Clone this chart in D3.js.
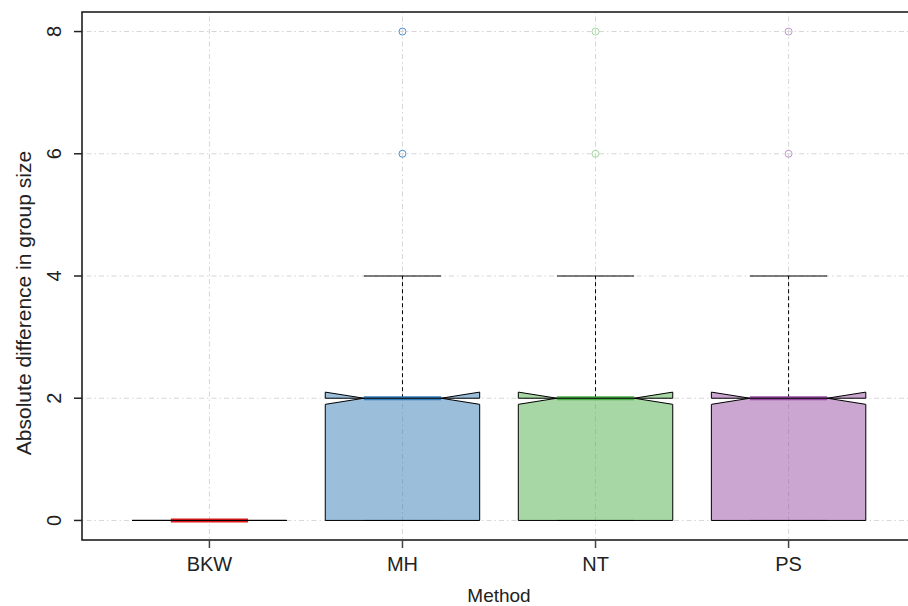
<!DOCTYPE html>
<html>
<head>
<meta charset="utf-8">
<script src="https://cdn.jsdelivr.net/npm/d3@7"></script>
<style>
  body { margin: 0; background: #fff; }
  text { font-family: "Liberation Sans", Arial, sans-serif; }
</style>
</head>
<body>
<div id="chart-container"></div>
<script>
// notched boxplot - absolute difference in group size by method
// colours = Set1 with half alpha for the boxes

const methods = ["BKW", "MH", "NT", "PS"];
const whiskerLow = [0, 0, 0, 0];
const q1 = [0, 0, 0, 0];
const medians = [0, 2, 2, 2];
const q3 = [0, 2, 2, 2];
const whiskerHigh = [0, 4, 4, 4];
const sampleSize = [1000, 1000, 1000, 1000];
const outliers = [[], [6, 8], [6, 8], [6, 8]];
const boxColors = ["#E41A1C", "#377EB8", "#4DAF4A", "#984EA3"];
const outlierColors = ["#E41A1C", "#4a8fd6", "#a3d99f", "#c494cf"];
const yTicks = [0, 2, 4, 6, 8];

const svgWidth = 908;
const svgHeight = 606;
const plot = { left: 82, top: 12, right: 916, bottom: 540 };

const svg = d3.select("#chart-container")
    .append("svg")
    .attr("width", svgWidth)
    .attr("height", svgHeight);

const boxes = methods.map((m, i) => ({
    name: m,
    pos: i + 1,
    lo: whiskerLow[i],
    q1: q1[i],
    med: medians[i],
    q3: q3[i],
    hi: whiskerHigh[i],
    notch: 1.58 * (q3[i] - q1[i]) / Math.sqrt(sampleSize[i]),
    out: outliers[i],
    color: boxColors[i],
    outColor: outlierColors[i]
}));

// R style 4% padding around 0.5 .. n + 0.5
const scaleX = d3.scaleLinear()
    .domain([0.34, 4.66])
    .range([plot.left, plot.right]);

const scaleY = d3.scaleLinear()
    .domain([-0.32, 8.32])
    .range([plot.bottom, plot.top]);

// grid
const grid = svg.append("g")
    .attr("stroke", "#d6d6d6")
    .attr("stroke-width", 1)
    .attr("stroke-dasharray", "1.5,3,5,3");

grid.selectAll("line.h")
    .data(yTicks)
    .enter()
    .append("line")
    .attr("x1", plot.left)
    .attr("x2", svgWidth)
    .attr("y1", d => scaleY(d))
    .attr("y2", d => scaleY(d));

grid.selectAll("line.v")
    .data(boxes)
    .enter()
    .append("line")
    .attr("x1", d => scaleX(d.pos))
    .attr("x2", d => scaleX(d.pos))
    .attr("y1", plot.top)
    .attr("y2", plot.bottom);

const boxHalf = 0.4;
const notchHalf = 0.2;
const stapleHalf = 0.2;

const line = d3.line()
    .x(d => scaleX(d[0]))
    .y(d => scaleY(d[1]));

function boxPoints(d) {
    const xl = d.pos - boxHalf, xr = d.pos + boxHalf;
    const nl = d.pos - notchHalf, nr = d.pos + notchHalf;
    return [
        [xl, d.q1], [xl, d.med - d.notch], [nl, d.med], [xl, d.med + d.notch], [xl, d.q3],
        [xr, d.q3], [xr, d.med + d.notch], [nr, d.med], [xr, d.med - d.notch], [xr, d.q1],
        [xl, d.q1]
    ];
}

const g = svg.selectAll("g.box")
    .data(boxes)
    .enter()
    .append("g")
    .attr("class", "box");

// whiskers
g.append("line")
    .attr("x1", d => scaleX(d.pos))
    .attr("x2", d => scaleX(d.pos))
    .attr("y1", d => scaleY(d.q3))
    .attr("y2", d => scaleY(d.hi))
    .attr("stroke", "#000")
    .attr("stroke-dasharray", "4,3");

g.append("line")
    .attr("x1", d => scaleX(d.pos))
    .attr("x2", d => scaleX(d.pos))
    .attr("y1", d => scaleY(d.q1))
    .attr("y2", d => scaleY(d.lo))
    .attr("stroke", "#000")
    .attr("stroke-dasharray", "4,3");

// staples
[d => d.hi, d => d.lo].forEach(acc => {
    g.append("line")
        .attr("x1", d => scaleX(d.pos - stapleHalf))
        .attr("x2", d => scaleX(d.pos + stapleHalf))
        .attr("y1", d => scaleY(acc(d)))
        .attr("y2", d => scaleY(acc(d)))
        .attr("stroke", "#000")
        .attr("stroke-width", 1);
});

// box fill
g.append("path")
    .attr("d", d => line(boxPoints(d)))
    .attr("fill", d => d.color)
    .attr("fill-opacity", 0.5)
    .attr("stroke", "none");

// median
g.append("line")
    .attr("x1", d => scaleX(d.pos - notchHalf))
    .attr("x2", d => scaleX(d.pos + notchHalf))
    .attr("y1", d => scaleY(d.med))
    .attr("y2", d => scaleY(d.med))
    .attr("stroke", d => d.color)
    .attr("stroke-width", 4);

// box outline
g.append("path")
    .attr("d", d => line(boxPoints(d)))
    .attr("fill", "none")
    .attr("stroke", "#000")
    .attr("stroke-width", 1)
    .attr("stroke-linejoin", "miter");

// outliers
g.selectAll("circle")
    .data(d => d.out.map(v => ({ v: v, pos: d.pos, color: d.outColor })))
    .enter()
    .append("circle")
    .attr("cx", d => scaleX(d.pos))
    .attr("cy", d => scaleY(d.v))
    .attr("r", 3.5)
    .attr("fill", "none")
    .attr("stroke", d => d.color)
    .attr("stroke-width", 1);

// frame: left, top, bottom (right side runs off the page)
const frame = svg.append("g")
    .attr("stroke", "#111")
    .attr("stroke-width", 1.5)
    .attr("fill", "none");
frame.append("path")
    .attr("d", `M${svgWidth},${plot.top}H${plot.left}V${plot.bottom}H${svgWidth}`);

// y axis ticks and labels
svg.append("g")
    .selectAll("line")
    .data(yTicks)
    .enter()
    .append("line")
    .attr("x1", plot.left - 8)
    .attr("x2", plot.left)
    .attr("y1", d => scaleY(d))
    .attr("y2", d => scaleY(d))
    .attr("stroke", "#222")
    .attr("stroke-width", 1.5);

svg.append("g")
    .selectAll("text")
    .data(yTicks)
    .enter()
    .append("text")
    .attr("transform", d => `translate(61,${scaleY(d)}) rotate(-90)`)
    .attr("text-anchor", "middle")
    .attr("font-size", "20px")
    .attr("fill", "#222")
    .text(d => d);

// x axis ticks and labels
svg.append("g")
    .selectAll("line")
    .data(boxes)
    .enter()
    .append("line")
    .attr("x1", d => scaleX(d.pos))
    .attr("x2", d => scaleX(d.pos))
    .attr("y1", plot.bottom)
    .attr("y2", plot.bottom + 8)
    .attr("stroke", "#444")
    .attr("stroke-width", 1.5);

svg.append("g")
    .selectAll("text")
    .data(boxes)
    .enter()
    .append("text")
    .attr("x", d => scaleX(d.pos))
    .attr("y", 571)
    .attr("text-anchor", "middle")
    .attr("font-size", "20px")
    .attr("fill", "#222")
    .text(d => d.name);

// axis titles
svg.append("text")
    .attr("x", (plot.left + svgWidth) / 2 + 4)
    .attr("y", 602)
    .attr("text-anchor", "middle")
    .attr("font-size", "19px")
    .attr("fill", "#222")
    .text("Method");

svg.append("text")
    .attr("transform", `translate(31,${(plot.top + plot.bottom) / 2 + 27}) rotate(-90)`)
    .attr("text-anchor", "middle")
    .attr("font-size", "21px")
    .attr("fill", "#222")
    .text("Absolute difference in group size");
</script>
</body>
</html>
